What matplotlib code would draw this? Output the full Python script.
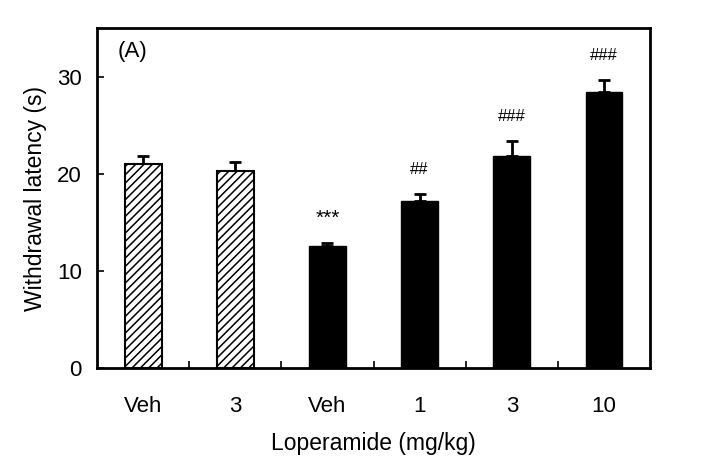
import matplotlib
matplotlib.use("Agg")
import matplotlib.pyplot as plt
import numpy as np

plt.rcParams['font.family'] = ['Liberation Sans', 'DejaVu Sans']
plt.rcParams['hatch.linewidth'] = 1.1

categories = ["Veh", "3", "Veh", "1", "3", "10"]
means = [21.0, 20.3, 12.6, 17.2, 21.8, 28.4]
sems = [0.8, 0.9, 0.3, 0.7, 1.6, 1.3]
marks = ["", "", "***", "##", "###", "###"]
hatched = [True, True, False, False, False, False]

fig = plt.figure(figsize=(7.16, 4.76), dpi=100)
ax = fig.add_axes([0.1355, 0.2269, 0.908 - 0.1355, 0.941 - 0.2269])

x = np.arange(len(categories))
for i in range(len(categories)):
    if hatched[i]:
        ax.bar(x[i], means[i], width=0.4, facecolor='white', edgecolor='black',
               hatch='////', linewidth=1.5, zorder=2)
    else:
        ax.bar(x[i], means[i], width=0.4, facecolor='black', edgecolor='black',
               linewidth=1.0, zorder=2)
    ax.errorbar(x[i], means[i], yerr=[[0], [sems[i]]], fmt='none', ecolor='black',
                elinewidth=2, capsize=4.5, capthick=2, zorder=1)
    if marks[i]:
        fs = 15 if marks[i].startswith('*') else 12
        ax.text(x[i], means[i] + sems[i] + 2.5, marks[i], ha='center', va='center',
                fontsize=fs)

ax.set_xlim(-0.5, len(categories) - 0.5)
ax.set_ylim(0, 35)
ax.set_yticks([0, 10, 20, 30])
ax.set_xticks(x)
ax.set_xticklabels(categories)
ax.set_xticks(np.arange(0.5, len(categories) - 0.5, 1.0), minor=True)
ax.tick_params(axis='x', which='major', length=0, pad=20, labelsize=16)
ax.tick_params(axis='x', which='minor', direction='in', length=5, width=1.2)
ax.tick_params(axis='y', which='major', direction='in', length=5, width=1.2,
               pad=11, labelsize=16)
for s in ax.spines.values():
    s.set_linewidth(2)

ax.set_ylabel("Withdrawal latency (s)", fontsize=16.5, labelpad=7)
ax.set_xlabel("Loperamide (mg/kg)", fontsize=16.5, labelpad=11)
ax.text(0.038, 0.93, "(A)", transform=ax.transAxes, fontsize=16, ha='left', va='center')

fig.savefig("out.png", dpi=100)
